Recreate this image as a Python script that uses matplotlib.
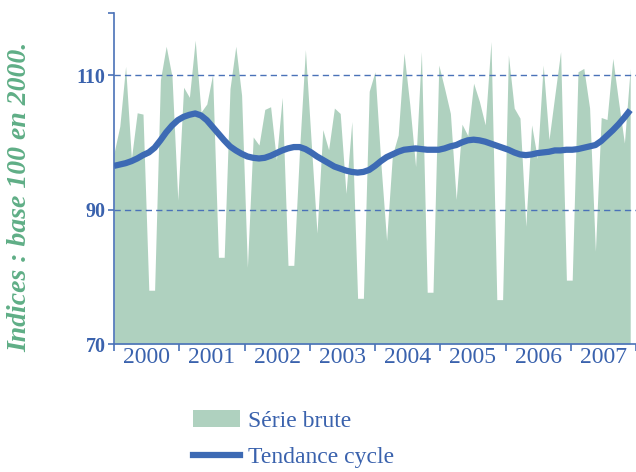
import numpy as np
import matplotlib
matplotlib.use("Agg")
import matplotlib.pyplot as plt
from matplotlib.patches import Patch
from matplotlib.lines import Line2D

# ---- data (monthly, Jan 2000 onwards) ----
serie_brute = [
    98.4, 102.4, 111.3, 97.6, 104.4, 104.2, 78.0, 78.0, 109.3, 114.3, 109.8, 91.4,
    108.2, 106.7, 115.2, 104.5, 105.7, 110.1, 82.9, 82.9, 108.0, 114.3, 107.0, 81.4,
    100.8, 99.6, 104.9, 105.3, 97.4, 106.7, 81.7, 81.7, 99.0, 113.8, 100.0, 86.5,
    101.9, 98.9, 105.1, 104.3, 92.4, 103.1, 76.8, 76.8, 107.6, 110.5, 97.0, 85.4,
    98.1, 101.1, 113.3, 105.6, 96.4, 113.5, 77.7, 77.7, 111.5, 108.0, 104.3, 91.5,
    102.7, 101.0, 108.8, 106.1, 102.6, 115.0, 76.6, 76.6, 113.0, 105.1, 103.6, 87.5,
    102.6, 97.6, 111.5, 100.4, 107.0, 113.5, 79.5, 79.5, 110.5, 111.0, 105.1, 83.8,
    103.7, 103.4, 112.5, 106.0, 99.9, 111.0,
]
tendance_cycle = [
    96.5, 96.7, 96.9, 97.2, 97.6, 98.1, 98.5, 99.2, 100.3, 101.5, 102.5, 103.3,
    103.8, 104.1, 104.3, 104.0, 103.3, 102.3, 101.3, 100.3, 99.4, 98.8, 98.3, 97.9,
    97.7, 97.6, 97.7, 98.0, 98.4, 98.8, 99.1, 99.3, 99.3, 99.0, 98.5, 97.9,
    97.4, 96.9, 96.4, 96.1, 95.8, 95.6, 95.5, 95.6, 95.9, 96.5, 97.2, 97.8,
    98.2, 98.6, 98.9, 99.0, 99.1, 99.0, 98.9, 98.9, 98.9, 99.1, 99.4, 99.6,
    100.0, 100.3, 100.4, 100.3, 100.1, 99.8, 99.5, 99.2, 98.9, 98.5, 98.2, 98.1,
    98.2, 98.4, 98.5, 98.6, 98.8, 98.8, 98.9, 98.9, 99.0, 99.2, 99.4, 99.6,
    100.2, 101.0, 101.8, 102.7, 103.7, 104.8,
]
years = ["2000", "2001", "2002", "2003", "2004", "2005", "2006", "2007"]
ytick_values = [70, 90, 110]
ylabel = "Indices : base 100 en 2000."
legend_labels = ["Série brute", "Tendance cycle"]

# ---- style ----
GREEN = "#afd1bf"
BLUE = "#3d6ab4"
AXBLUE = "#4a72b8"
TXTBLUE = "#3a62ad"
LBLGREEN = "#5fae86"
SERIF = ["Liberation Serif", "DejaVu Serif"]

fig = plt.figure(figsize=(6.36, 4.72), dpi=100)
ax = fig.add_axes([114 / 636, (472 - 344) / 472, (636 - 114) / 636, (344 - 13.3) / 472])

n = len(serie_brute)
x = np.arange(n)
ymin, ymax = 70, 119.2
ax.fill_between(x, ymin, serie_brute, color=GREEN, linewidth=0, zorder=1)
for v in ytick_values[1:]:
    ax.axhline(v, color=AXBLUE, lw=1.0, ls=(0, (4.5, 3)), zorder=2)
ax.plot(x, tendance_cycle, color=BLUE, lw=4.5, solid_capstyle="butt", zorder=3)

ax.set_xlim(0, 90)
ax.set_ylim(ymin, ymax)

for s in ["top", "right"]:
    ax.spines[s].set_visible(False)
for s in ["left", "bottom"]:
    ax.spines[s].set_color(AXBLUE)
    ax.spines[s].set_linewidth(1.2)

# x ticks: year boundaries (marks) and year centres (labels)
nyears = len(years)
bounds = np.linspace(0, 90, nyears + 1)
centres = (bounds[:-1] + bounds[1:]) / 2
ax.set_xticks(bounds)
ax.set_xticklabels([])
ax.set_xticks(centres, minor=True)
ax.set_xticklabels(years, minor=True, fontsize=17, color=TXTBLUE, family=SERIF)
ax.tick_params(axis="x", which="major", direction="out", length=5, width=1.2, color=AXBLUE)
ax.tick_params(axis="x", which="minor", length=0, pad=2)

ax.set_yticks(ytick_values + [ymax])
ax.set_yticklabels([str(v) for v in ytick_values] + [""], fontsize=14.5, fontweight="bold",
                   color=TXTBLUE, family=SERIF)
ax.tick_params(axis="y", direction="out", length=4.5, width=1.2, color=AXBLUE, pad=1.5)

fig.text(20 / 636, 1 - 197 / 472, ylabel, rotation=90, ha="center", va="center",
         fontsize=20, fontweight="bold", fontstyle="italic", color=LBLGREEN, family=SERIF)

handles = [Patch(facecolor=GREEN, edgecolor="none"),
           Line2D([0], [0], color=BLUE, lw=4.5)]
leg = fig.legend(handles, legend_labels, loc="upper left",
                 bbox_to_anchor=(193 / 636, 1 - 410 / 472), frameon=False,
                 borderpad=0, borderaxespad=0, handlelength=2.0, handleheight=0.76,
                 handletextpad=0.35, labelspacing=0.6,
                 prop={"family": SERIF, "size": 17})
for t in leg.get_texts():
    t.set_color(TXTBLUE)

fig.savefig("out.png", dpi=100)
